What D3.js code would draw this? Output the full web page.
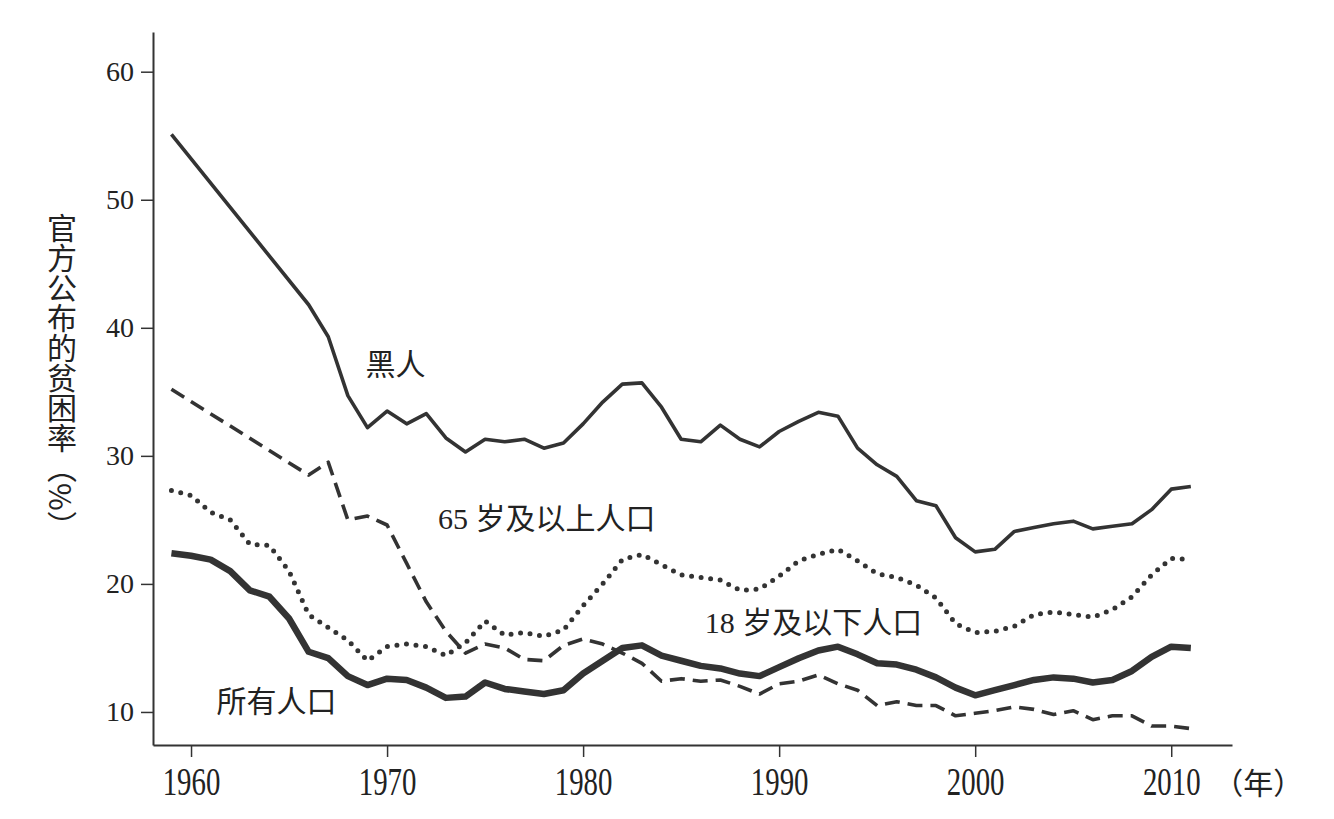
<!DOCTYPE html>
<html>
<head>
<meta charset="utf-8">
<script src="https://cdn.jsdelivr.net/npm/d3@7/dist/d3.min.js"></script>
<style>
  html, body { margin: 0; padding: 0; background: #fff; }
  svg { display: block; }
</style>
</head>
<body>
<svg id="chart" width="1334" height="819"></svg>
<script>
// ---- data ----
const years = d3.range(1959, 2012);
// null = no data that year (line connects 1959 directly to 1966)
const blackRate = [55.1, null, null, null, null, null, null, 41.8, 39.3, 34.7, 32.2,
  33.5, 32.5, 33.3, 31.4, 30.3, 31.3, 31.1, 31.3, 30.6, 31.0,
  32.5, 34.2, 35.6, 35.7, 33.8, 31.3, 31.1, 32.4, 31.3, 30.7,
  31.9, 32.7, 33.4, 33.1, 30.6, 29.3, 28.4, 26.5, 26.1, 23.6,
  22.5, 22.7, 24.1, 24.4, 24.7, 24.9, 24.3, 24.5, 24.7, 25.8,
  27.4, 27.6];
const elderlyRate = [35.2, null, null, null, null, null, null, 28.5, 29.5, 25.0, 25.3,
  24.6, 21.6, 18.6, 16.3, 14.6, 15.3, 15.0, 14.1, 14.0, 15.2,
  15.7, 15.3, 14.6, 13.8, 12.4, 12.6, 12.4, 12.5, 12.0, 11.4,
  12.2, 12.4, 12.9, 12.2, 11.7, 10.5, 10.8, 10.5, 10.5, 9.7,
  9.9, 10.1, 10.4, 10.2, 9.8, 10.1, 9.4, 9.7, 9.7, 8.9,
  8.9, 8.7];
const childRate = [27.3, 26.9, 25.6, 25.0, 23.1, 23.0, 21.0, 17.6, 16.6, 15.6, 14.0,
  15.1, 15.3, 15.1, 14.4, 15.4, 17.1, 16.0, 16.2, 15.9, 16.4,
  18.3, 20.0, 21.9, 22.3, 21.5, 20.7, 20.5, 20.3, 19.5, 19.6,
  20.6, 21.8, 22.3, 22.7, 21.8, 20.8, 20.5, 19.9, 18.9, 16.9,
  16.2, 16.3, 16.7, 17.6, 17.8, 17.6, 17.4, 18.0, 19.0, 20.7,
  22.0, 21.9];
const allRate = [22.4, 22.2, 21.9, 21.0, 19.5, 19.0, 17.3, 14.7, 14.2, 12.8, 12.1,
  12.6, 12.5, 11.9, 11.1, 11.2, 12.3, 11.8, 11.6, 11.4, 11.7,
  13.0, 14.0, 15.0, 15.2, 14.4, 14.0, 13.6, 13.4, 13.0, 12.8,
  13.5, 14.2, 14.8, 15.1, 14.5, 13.8, 13.7, 13.3, 12.7, 11.9,
  11.3, 11.7, 12.1, 12.5, 12.7, 12.6, 12.3, 12.5, 13.2, 14.3,
  15.1, 15.0];

const xTicks = [1960, 1970, 1980, 1990, 2000, 2010];
const yTicks = [10, 20, 30, 40, 50, 60];
const seriesNames = ["黑人", "65 岁及以上人口", "18 岁及以下人口", "所有人口"];
// label anchor positions in data space [year, value]
const labelAnchors = [[1968.9, 36.3], [1972.6, 24.3], [1986.2, 16.2], [1961.3, 9.97]];
const yTitle = "官方公布的贫困率（%）";
const xUnit = "（年）";

// ---- chart ----
const svg = d3.select("#chart");
const ink = "#333";
const x = d3.scaleLinear().domain([1958.06, 2013.1]).range([153, 1232]);
const y = d3.scaleLinear().domain([7.42, 63.1]).range([745, 32]);

const serif = "'Liberation Serif', 'Noto Sans CJK SC', serif";
const cjk = "'Liberation Serif', 'Noto Sans CJK SC', sans-serif";

// y axis
const yAxis = svg.append("g")
  .attr("transform", `translate(${x.range()[0]},0)`)
  .call(d3.axisLeft(y).tickValues(yTicks).tickSize(12).tickSizeOuter(0).tickPadding(7).tickFormat(d3.format("d")));
yAxis.select(".domain").attr("stroke", ink).attr("stroke-width", 2);
yAxis.selectAll(".tick line").attr("stroke", ink).attr("stroke-width", 1.5);
yAxis.selectAll(".tick text").attr("fill", "#222").style("font-family", serif).style("font-size", "28px");

// x axis
const xAxis = svg.append("g")
  .attr("transform", `translate(0,${y.range()[0]})`)
  .call(d3.axisBottom(x).tickValues(xTicks).tickSize(12).tickSizeOuter(0).tickPadding(10).tickFormat(d3.format("d")));
xAxis.select(".domain").attr("stroke", ink).attr("stroke-width", 2);
xAxis.selectAll(".tick line").attr("stroke", ink).attr("stroke-width", 1.5);
xAxis.selectAll(".tick text").attr("fill", "#222")
  .style("font-family", serif).style("font-size", "39px")
  .attr("transform", "scale(0.74,1)");

// x unit
svg.append("text")
  .attr("x", x(2010) + 42).attr("y", 794)
  .attr("fill", "#222")
  .style("font-family", "'Noto Sans CJK SC', sans-serif").style("font-size", "30px")
  .text(xUnit);

// y title (vertical)
svg.append("text")
  .attr("x", 62).attr("y", 213)
  .attr("fill", "#222")
  .style("font-family", "'Noto Sans CJK SC', sans-serif").style("font-size", "30px")
  .style("writing-mode", "vertical-rl")
  .text(yTitle);

// lines
const line = d3.line().x(d => x(d[0])).y(d => y(d[1])).curve(d3.curveLinear);
const pts = arr => years.map((yr, i) => [yr, arr[i]]).filter(d => d[1] != null);

const g = svg.append("g").attr("fill", "none").attr("stroke", ink).attr("stroke-linejoin", "round");

g.append("path").datum(pts(blackRate)).attr("d", line)
  .attr("stroke-width", 3.6);
g.append("path").datum(pts(elderlyRate)).attr("d", line)
  .attr("stroke-width", 3.6).attr("stroke-dasharray", "15 8");
g.append("path").datum(pts(childRate)).attr("d", line)
  .attr("stroke-width", 5).attr("stroke-linecap", "round").attr("stroke-dasharray", "0 9.6");
g.append("path").datum(pts(allRate)).attr("d", line)
  .attr("stroke-width", 6.5);

// labels
svg.append("g").selectAll("text").data(seriesNames).join("text")
  .attr("x", (d, i) => x(labelAnchors[i][0]))
  .attr("y", (d, i) => y(labelAnchors[i][1]))
  .attr("fill", "#222")
  .style("font-family", cjk).style("font-size", "30px")
  .text(d => d);
</script>
</body>
</html>
